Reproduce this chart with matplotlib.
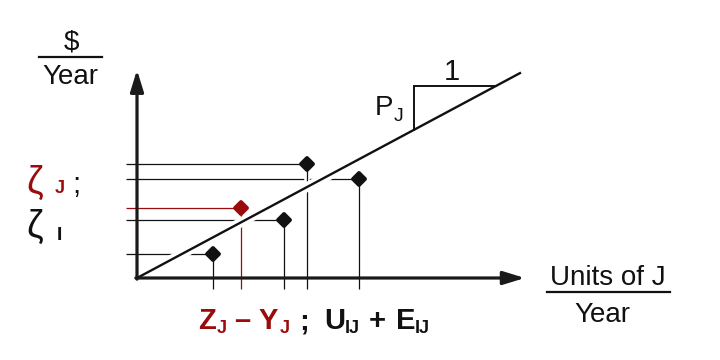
import matplotlib
matplotlib.use('Agg')
import matplotlib.pyplot as plt
import matplotlib.patheffects as pe
from matplotlib.markers import MarkerStyle

plt.rcParams['font.family'] = ['Liberation Sans', 'DejaVu Sans']

W, H = 720, 360
RED = '#9a0c0c'
INK = '#111111'

# ── data (chart units, origin at the axes corner) ────────────────────────────
pt_x = [1.99, 2.72, 3.83, 4.42, 5.79]
pt_y = [0.62, 1.83, 1.51, 2.96, 2.57]
pt_color = [INK, RED, INK, INK, INK]
slope = 0.535          # P_J, $ per unit of J
line_end = 10.0
tri_x0, tri_x1 = 7.21, 9.35

fig = plt.figure(figsize=(W / 100, H / 100), dpi=100)
fig.patch.set_facecolor('white')
ax = fig.add_axes([0, 0, 1, 1])
ox, oy, k = 137, 278, 38.4   # pixel position of origin and pixels per unit
ax.set_xlim(-ox / k, (W - ox) / k)
ax.set_ylim((oy - H) / k, oy / k)
ax.axis('off')


def ftext(x, y, s, **kw):
    """Place text by pixel position (from top-left)."""
    kw.setdefault('fontsize', 20)
    kw.setdefault('color', INK)
    fig.text(x / W, 1 - y / H, s, **kw)


# ── guide lines ──────────────────────────────────────────────────────────────
left_end = -0.29
bottom_end = -0.29
for x, y, c in zip(pt_x, pt_y, pt_color):
    ax.plot([left_end, x], [y, y], color=c, lw=0.9, zorder=2,
            solid_capstyle='butt')
for x, y, c in zip(pt_x, pt_y, pt_color):
    ax.plot([x, x], [y, bottom_end], color=c, lw=0.9, zorder=3,
            solid_capstyle='butt',
            path_effects=[pe.withStroke(linewidth=4, foreground='white')])

# ── cost line with white halo ────────────────────────────────────────────────
ax.plot([0, line_end], [0, slope * line_end], color=INK, lw=1.7, zorder=4,
        solid_capstyle='butt',
        path_effects=[pe.withStroke(linewidth=7, foreground='white')])

# slope triangle
ax.plot([tri_x0, tri_x0, tri_x1], [slope * tri_x0, slope * tri_x1, slope * tri_x1],
        color=INK, lw=1.4, zorder=5, solid_joinstyle='miter')

# ── axes with arrows ─────────────────────────────────────────────────────────
arrow_kw = dict(arrowstyle='-|>,head_length=0.65,head_width=0.2',
                color='#1a1a1a', lw=2.3, shrinkA=0, shrinkB=0,
                mutation_scale=20)
ax.annotate('', xy=(0, 5.42), xytext=(0, -0.03), arrowprops=arrow_kw, zorder=6)
ax.annotate('', xy=(10.1, 0), xytext=(-0.03, 0), arrowprops=arrow_kw, zorder=6)

# ── points ───────────────────────────────────────────────────────────────────
dia = MarkerStyle('D', joinstyle='round')
for x, y, c in zip(pt_x, pt_y, pt_color):
    ax.plot(x, y, marker=dia, ms=6.6, mew=2.8, color=c, mec=c, zorder=7)

# ── labels ───────────────────────────────────────────────────────────────────
# y-axis unit
ftext(71, 43, '$', ha='center', va='center')
ax.plot([-98 / k, -35 / k], [(oy - 57.5) / k] * 2, color=INK, lw=1.6)
ftext(70, 77, 'Year', ha='center', va='center')

# x-axis unit
ftext(608, 285, 'Units of J', ha='center', va='baseline')
ax.plot([(547 - ox) / k, (670 - ox) / k], [(oy - 292) / k] * 2, color=INK, lw=1.6)
ftext(602, 322, 'Year', ha='center', va='baseline')

# slope triangle labels
ftext(452, 80, '1', ha='center', va='baseline', fontsize=21)
ftext(375, 115, 'P', ha='left', va='baseline')
ftext(394, 121, 'J', ha='left', va='baseline', fontsize=14)

# zeta labels
ftext(26, 193, 'ζ', ha='left', va='baseline', fontsize=27, color=RED)
ftext(55, 193, 'J', ha='left', va='baseline', fontsize=13, color=RED,
      fontweight='bold')
ftext(72, 193, ';', ha='left', va='baseline', fontsize=21)
ftext(26, 237, 'ζ', ha='left', va='baseline', fontsize=27)
ftext(57, 240, 'I', ha='left', va='baseline', fontsize=14, fontweight='bold')

# bottom labels
bold = dict(va='baseline', ha='left', fontweight='bold')
ftext(198, 329, 'Z', color=RED, fontsize=21, **bold)
ftext(217, 333, 'J', color=RED, fontsize=13, **bold)
ftext(234, 329, '–', color=RED, fontsize=21, **bold)
ftext(259, 329, 'Y', color=RED, fontsize=21, **bold)
ftext(280, 333, 'J', color=RED, fontsize=13, **bold)
ftext(299, 329, ';', fontsize=21, **bold)
ftext(324, 329, 'U', fontsize=21, **bold)
ftext(345, 333, 'IJ', fontsize=13, **bold)
ftext(369, 329, '+', fontsize=21, **bold)
ftext(396, 329, 'E', fontsize=21, **bold)
ftext(415, 333, 'IJ', fontsize=13, **bold)

fig.savefig('out.png', dpi=100, facecolor='white')
